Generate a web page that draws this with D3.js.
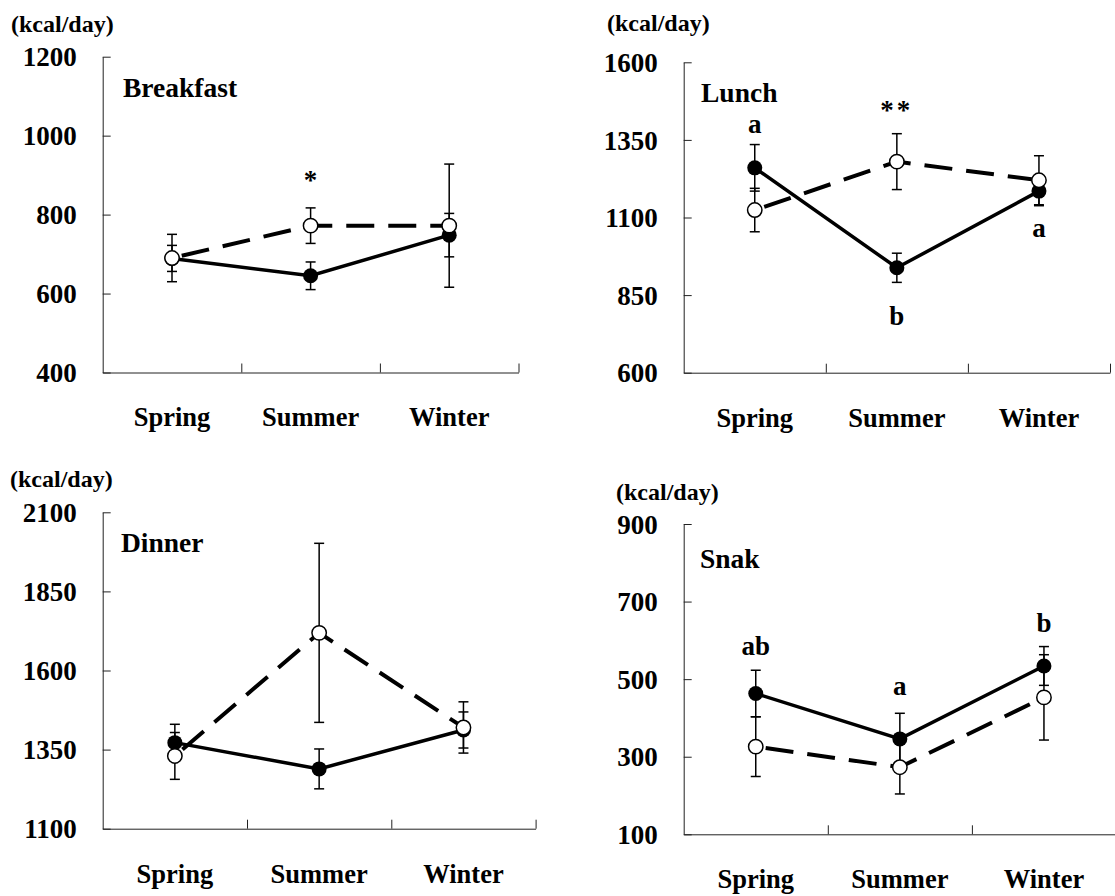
<!DOCTYPE html>
<html>
<head>
<meta charset="utf-8">
<script src="https://cdn.jsdelivr.net/npm/d3@7"></script>
</head>
<body style="margin:0; background:#fff">
<div id="chart"></div>
<script>
// Categories
const seasons = ['Spring', 'Summer', 'Winter'];
const unitLabel = '(kcal/day)';

// Breakfast
const breakfastTicks = [400, 600, 800, 1000, 1200];
const breakfastFilled = [689, 645, 748];
const breakfastFilledErr = [33, 35, 55];
const breakfastOpen = [690, 772, 772];
const breakfastOpenErr = [60, 45, 156];
const breakfastNotes = [{ season: 'Summer', text: '*', value: 866 }];

// Lunch
const lunchTicks = [600, 850, 1100, 1350, 1600];
const lunchFilled = [1260, 938, 1185];
const lunchFilledErr = [75, 47, 47];
const lunchOpen = [1124, 1280, 1220];
const lunchOpenErr = [70, 90, 79];
const lunchNotes = [
  { season: 'Spring', text: 'a', value: 1371 },
  { season: 'Summer', text: '**', value: 1417 },
  { season: 'Summer', text: 'b', value: 754 },
  { season: 'Winter', text: 'a', value: 1038 }
];

// Dinner
const dinnerTicks = [1100, 1350, 1600, 1850, 2100];
const dinnerFilled = [1372, 1289, 1412];
const dinnerFilledErr = [58, 63, 57];
const dinnerOpen = [1330, 1719, 1420];
const dinnerOpenErr = [74, 283, 81];
const dinnerNotes = [];

// Snack
const snackTicks = [100, 300, 500, 700, 900];
const snackFilled = [463, 346, 534];
const snackFilledErr = [60, 66, 50];
const snackOpen = [326, 273, 453];
const snackOpenErr = [77, 69, 110];
const snackNotes = [
  { season: 'Spring', text: 'ab', value: 562 },
  { season: 'Summer', text: 'a', value: 459 },
  { season: 'Winter', text: 'b', value: 622 }
];

// Panel layout (positions only)
const panels = [
  { title: 'Breakfast', ticks: breakfastTicks, filled: breakfastFilled, filledErr: breakfastFilledErr,
    open: breakfastOpen, openErr: breakfastOpenErr, notes: breakfastNotes,
    left: 102.7, right: 518.5, top: 56.7, bottom: 372.5, unitX: 11, unitY: 32, titleX: 123, titleY: 97 },
  { title: 'Lunch', ticks: lunchTicks, filled: lunchFilled, filledErr: lunchFilledErr,
    open: lunchOpen, openErr: lunchOpenErr, notes: lunchNotes,
    left: 683.7, right: 1110, top: 62.3, bottom: 372.7, unitX: 607, unitY: 31, titleX: 701, titleY: 102 },
  { title: 'Dinner', ticks: dinnerTicks, filled: dinnerFilled, filledErr: dinnerFilledErr,
    open: dinnerOpen, openErr: dinnerOpenErr, notes: dinnerNotes,
    left: 102.7, right: 535.6, top: 512.3, bottom: 828.7, unitX: 10, unitY: 487, titleX: 121, titleY: 552 },
  { title: 'Snak', ticks: snackTicks, filled: snackFilled, filledErr: snackFilledErr,
    open: snackOpen, openErr: snackOpenErr, notes: snackNotes,
    left: 683.7, right: 1116, top: 524, bottom: 834.3, unitX: 616, unitY: 500, titleX: 700, titleY: 568 }
];

const FONT = "'Liberation Serif', 'Times New Roman', Tinos, serif";

const svg = d3.select('#chart').append('svg')
  .attr('width', 1115)
  .attr('height', 896)
  .attr('font-family', FONT)
  .attr('font-weight', 'bold');

panels.forEach(p => drawPanel(p));

function drawPanel(p) {
  const g = svg.append('g');

  const xBand = d3.scaleBand().domain(seasons).range([p.left, p.right]);
  const xEdge = d3.scaleLinear().domain([0, seasons.length]).range([p.left, p.right]);
  const y = d3.scaleLinear().domain(d3.extent(p.ticks)).range([p.bottom, p.top]);
  const cx = s => xBand(s) + xBand.bandwidth() / 2;

  // y axis, ticks pointing inward
  const yAxisG = g.append('g')
    .attr('transform', `translate(${p.left},0)`)
    .attr('color', '#222')
    .call(d3.axisLeft(y).tickValues(p.ticks).tickFormat(d3.format('d'))
      .tickSize(-8).tickSizeOuter(0).tickPadding(26));
  yAxisG.attr('font-family', FONT);
  yAxisG.selectAll('text').attr('font-size', 27).attr('dy', '0.34em').attr('fill', '#000');

  // x axis with ticks at the category edges
  g.append('g')
    .attr('transform', `translate(0,${p.bottom})`)
    .attr('color', '#222')
    .call(d3.axisBottom(xEdge).tickValues(d3.range(1, seasons.length + 1))
      .tickSize(-9).tickSizeOuter(0).tickFormat(''));

  // category labels
  const labG = g.append('g')
    .attr('transform', `translate(0,${p.bottom})`)
    .call(d3.axisBottom(xBand).tickSize(0).tickPadding(35));
  labG.attr('font-family', FONT);
  labG.select('.domain').remove();
  labG.selectAll('text').attr('font-size', 26.5).attr('fill', '#000');

  // unit and title
  g.append('text').attr('x', p.unitX).attr('y', p.unitY)
    .attr('font-size', 24).text(unitLabel);
  g.append('text').attr('x', p.titleX).attr('y', p.titleY)
    .attr('font-size', 27.5).text(p.title);

  const line = d3.line()
    .x((d, i) => cx(seasons[i]))
    .y(d => y(d));

  g.append('path').datum(p.open)
    .attr('d', line)
    .attr('fill', 'none')
    .attr('stroke', '#000')
    .attr('stroke-width', 4)
    .attr('stroke-dasharray', '28,14')
    .attr('stroke-dashoffset', -10);

  g.append('path').datum(p.filled)
    .attr('d', line)
    .attr('fill', 'none')
    .attr('stroke', '#000')
    .attr('stroke-width', 3.5);

  // error bars
  const bars = [];
  seasons.forEach((s, i) => {
    bars.push({ x: cx(s), v: p.filled[i], e: p.filledErr[i] });
    bars.push({ x: cx(s), v: p.open[i], e: p.openErr[i] });
  });
  const eb = g.append('g').attr('stroke', '#000').attr('stroke-width', 1.5);
  bars.forEach(b => {
    eb.append('line').attr('x1', b.x).attr('x2', b.x)
      .attr('y1', y(b.v + b.e)).attr('y2', y(b.v - b.e));
    [b.v + b.e, b.v - b.e].forEach(c => {
      eb.append('line').attr('x1', b.x - 5).attr('x2', b.x + 5)
        .attr('y1', y(c)).attr('y2', y(c));
    });
  });

  // markers
  g.append('g').selectAll('circle')
    .data(p.filled).join('circle')
    .attr('cx', (d, i) => cx(seasons[i]))
    .attr('cy', d => y(d))
    .attr('r', 7.5)
    .attr('fill', '#000');

  g.append('g').selectAll('circle')
    .data(p.open).join('circle')
    .attr('cx', (d, i) => cx(seasons[i]))
    .attr('cy', d => y(d))
    .attr('r', 7.2)
    .attr('fill', '#fff')
    .attr('stroke', '#000')
    .attr('stroke-width', 1.5);

  // significance letters
  g.append('g').selectAll('text')
    .data(p.notes).join('text')
    .attr('x', d => cx(d.season))
    .attr('y', d => y(d.value))
    .attr('text-anchor', 'middle')
    .attr('font-size', 27)
    .attr('letter-spacing', d => d.text === '**' ? 3 : null)
    .text(d => d.text);
}
</script>
</body>
</html>
